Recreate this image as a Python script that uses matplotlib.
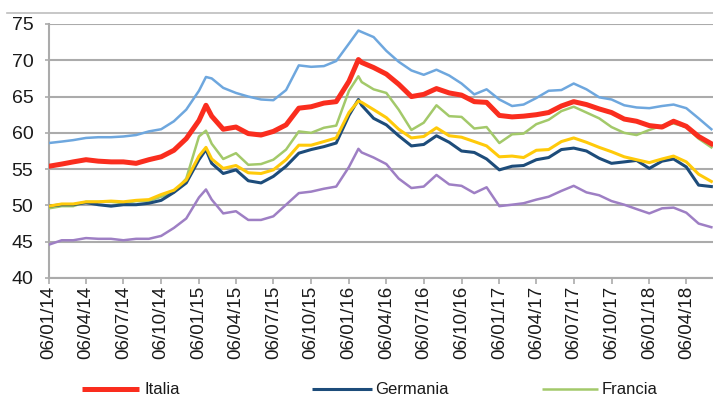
import matplotlib
matplotlib.use("Agg")
import matplotlib.pyplot as plt
import matplotlib.dates as mdates
from matplotlib.lines import Line2D
import pandas as pd

plt.rcParams['font.family'] = ['Liberation Sans', 'DejaVu Sans']

# Observation dates: monthly, plus the two peaks of Jan 2015 and Jan 2016
dates = (
    [f"2014-{m:02d}-06" for m in range(1, 13)]
    + ["2015-01-06", "2015-01-23"]
    + [f"2015-{m:02d}-06" for m in range(2, 13)]
    + ["2016-01-06", "2016-01-29"]
    + [f"2016-{m:02d}-06" for m in range(2, 13)]
    + [f"2017-{m:02d}-06" for m in range(1, 13)]
    + [f"2018-{m:02d}-06" for m in range(1, 7)]
)

serie_azzurra = [58.6, 58.8, 59.0, 59.3, 59.4, 59.4, 59.5, 59.7, 60.2, 60.5, 61.6, 63.2,
                 65.8, 67.7, 67.5, 66.2, 65.5, 65.0, 64.6, 64.5, 65.9, 69.3, 69.1, 69.2, 69.9,
                 72.3, 74.1, 73.9, 73.2, 71.3, 69.8, 68.6, 68.0, 68.7, 67.9, 66.8, 65.3, 66.0,
                 64.6, 63.7, 63.9, 64.8, 65.8, 65.9, 66.8, 66.0, 64.9, 64.6, 63.8, 63.5,
                 63.4, 63.7, 63.9, 63.4, 62.0, 60.5]

italia = [55.4, 55.7, 56.0, 56.3, 56.1, 56.0, 56.0, 55.8, 56.3, 56.7, 57.6, 59.2,
          61.7, 63.8, 62.3, 60.5, 60.8, 59.9, 59.7, 60.2, 61.1, 63.4, 63.6, 64.1, 64.3,
          67.1, 70.1, 69.7, 69.0, 68.1, 66.7, 65.0, 65.3, 66.1, 65.5, 65.2, 64.3, 64.2,
          62.4, 62.2, 62.3, 62.5, 62.8, 63.7, 64.3, 63.9, 63.3, 62.8, 61.9, 61.6,
          61.0, 60.8, 61.6, 60.9, 59.5, 58.5]

germania = [49.9, 50.1, 50.1, 50.4, 50.1, 49.9, 50.1, 50.1, 50.3, 50.7, 51.8, 53.1,
            56.3, 57.7, 55.8, 54.4, 54.9, 53.4, 53.1, 54.0, 55.4, 57.2, 57.7, 58.1, 58.6,
            62.4, 64.6, 63.8, 62.0, 61.1, 59.6, 58.2, 58.4, 59.6, 58.7, 57.5, 57.3, 56.4,
            54.9, 55.4, 55.5, 56.3, 56.6, 57.7, 57.9, 57.5, 56.5, 55.8, 56.0, 56.2,
            55.1, 56.1, 56.4, 55.3, 52.8, 52.6]

francia = [49.6, 49.9, 49.9, 50.5, 50.5, 50.5, 50.3, 50.6, 50.6, 51.2, 51.8, 53.7,
           59.5, 60.3, 58.5, 56.4, 57.2, 55.6, 55.7, 56.3, 57.7, 60.2, 60.0, 60.7, 61.0,
           65.8, 67.8, 67.0, 66.0, 65.5, 63.2, 60.4, 61.4, 63.8, 62.3, 62.2, 60.6, 60.8,
           58.6, 59.8, 59.9, 61.2, 61.8, 63.0, 63.6, 62.8, 62.0, 60.8, 60.0, 59.7,
           60.4, 61.0, 61.3, 60.8, 59.2, 58.0]

serie_gialla = [49.9, 50.2, 50.2, 50.5, 50.5, 50.6, 50.5, 50.7, 50.8, 51.5, 52.1, 53.5,
                56.8, 58.0, 56.4, 55.1, 55.5, 54.5, 54.4, 54.9, 56.3, 58.3, 58.3, 58.8, 59.3,
                62.8, 64.4, 64.2, 63.2, 62.1, 60.5, 59.3, 59.5, 60.7, 59.6, 59.4, 58.8, 58.2,
                56.7, 56.8, 56.6, 57.6, 57.7, 58.8, 59.3, 58.7, 58.0, 57.4, 56.7, 56.3,
                55.9, 56.4, 56.8, 56.0, 54.3, 53.3]

serie_viola = [44.6, 45.2, 45.2, 45.5, 45.4, 45.4, 45.2, 45.4, 45.4, 45.8, 46.9, 48.2,
               51.1, 52.2, 50.8, 48.9, 49.2, 48.0, 48.0, 48.5, 50.1, 51.7, 51.9, 52.3, 52.6,
               55.3, 57.8, 57.3, 56.6, 55.7, 53.7, 52.4, 52.6, 54.2, 52.9, 52.7, 51.7, 52.5,
               49.9, 50.1, 50.3, 50.8, 51.2, 52.0, 52.7, 51.8, 51.4, 50.6, 50.1, 49.5,
               48.9, 49.6, 49.7, 49.0, 47.5, 47.0]

# quarterly ticks on the 6th: 06/01/14 ... 06/04/18
tick_dates = pd.date_range("2014-01-01", "2018-04-01", freq="3MS") + pd.Timedelta(days=5)

x = pd.to_datetime(dates)

fig = plt.figure(figsize=(7.13, 3.96), dpi=100)
ax = fig.add_axes([49 / 713, 1 - 278 / 396, 664 / 713, 254 / 396])

ax.plot(x, serie_azzurra, color="#6EA7DE", lw=1.8, zorder=3)
ax.plot(x, serie_viola, color="#9E7FC4", lw=1.8, zorder=3)
l_fr, = ax.plot(x, francia, color="#A3C96A", lw=1.8, zorder=4, label="Francia")
l_de, = ax.plot(x, germania, color="#1D4C7A", lw=2.2, zorder=5, label="Germania")
ax.plot(x, serie_gialla, color="#FFCA0A", lw=2.2, zorder=6)
l_it, = ax.plot(x, italia, color="#FA2D1E", lw=3.6, zorder=7, label="Italia")

ax.set_ylim(40, 75)
ax.set_yticks(range(40, 80, 5))
ax.set_xlim(pd.Timestamp("2014-01-06"), pd.Timestamp("2018-06-10"))
ax.set_xticks(tick_dates)
ax.xaxis.set_major_formatter(mdates.DateFormatter("%d/%m/%y"))

grid_col = "#ABABAB"
ax.grid(axis="y", color=grid_col, lw=1.5, zorder=1)
for side in ("top", "right"):
    ax.spines[side].set_visible(False)
for side in ("left", "bottom"):
    ax.spines[side].set_color(grid_col)
    ax.spines[side].set_linewidth(1.5)

ax.tick_params(axis="y", length=3.2, width=1.2, color=grid_col, pad=8,
               labelsize=14, labelcolor="#1a1a1a")
ax.tick_params(axis="x", length=4.3, width=1.2, color=grid_col, pad=1.5,
               labelsize=13.5, labelcolor="#1a1a1a", labelrotation=90)

# thin frame line across the top
fig.add_artist(Line2D([7 / 713, 1], [1 - 13 / 396] * 2, color="#BDBDBD", lw=1.2))

# legend keys along the bottom
y_leg = 1 - 389 / 396
for line, x0, x1, xt in ((l_it, 82, 139, 144), (l_de, 312, 372, 375), (l_fr, 542, 598, 602)):
    fig.add_artist(Line2D([x0 / 713, x1 / 713], [y_leg, y_leg],
                          color=line.get_color(), lw=line.get_linewidth(),
                          solid_capstyle="butt"))
    fig.text(xt / 713, y_leg, line.get_label(), fontsize=12, color="#1a1a1a",
             ha="left", va="center")

fig.savefig("out.png", dpi=100)
